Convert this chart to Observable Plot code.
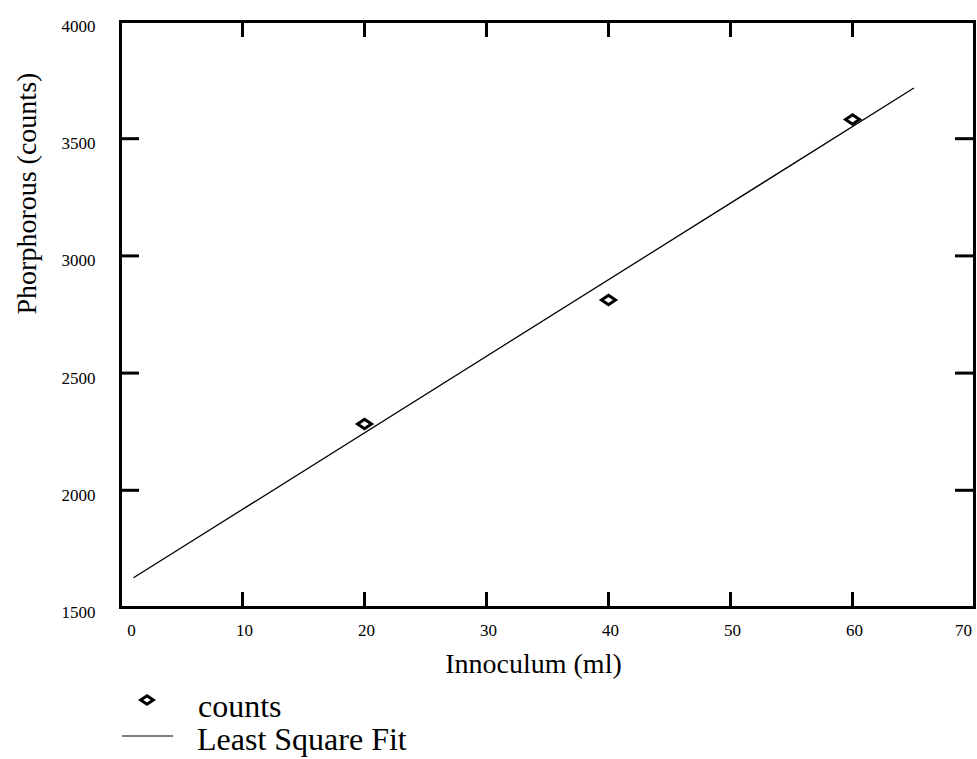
<!DOCTYPE html>
<html><head><meta charset="utf-8">
<script src="https://cdn.jsdelivr.net/npm/d3@7"></script>
<script src="https://cdn.jsdelivr.net/npm/@observablehq/plot@0.6"></script>
<style>
body{margin:0;background:#fff;font-family:"Liberation Serif","DejaVu Serif","Times New Roman",Times,serif;}
#wrap{position:relative;width:977px;height:759px;overflow:hidden;}
#chart svg, #chart svg text{font-family:"Liberation Serif","DejaVu Serif","Times New Roman",Times,serif !important;}
.lg{position:absolute;font-size:32px;line-height:32px;color:#000;white-space:nowrap;}
#lgsym{position:absolute;left:0;top:0;}
</style></head><body>
<div id="wrap"><div id="chart"></div>
<svg id="lgsym" width="977" height="759"></svg>
<div class="lg" id="lg1" style="left:198px;top:690px;">counts</div>
<div class="lg" id="lg2" style="left:197px;top:723px;">Least Square Fit</div>
</div>
<script>
// Data
const innoculum = [20, 40, 60];
const counts = [2283, 2812, 3582];
const fitX = [1.1, 65];
const fitY = [1628, 3715];
const xLabelTicks = [10, 20, 30, 40, 50, 60];
const xEdgeLeft = [0];
const xEdgeRight = [70];
const yLabelTicks = [1500, 2000, 2500, 3000, 3500, 4000];
const xInnerTicks = [10, 20, 30, 40, 50, 60];
const yInnerTicks = [2000, 2500, 3000, 3500];
const xTitle = "Innoculum (ml)";
const yTitle = "Phorphorous (counts)";
const legendLabels = ["counts", "Least Square Fit"];

const points = innoculum.map((x, i) => ({x, y: counts[i]}));
const fit = fitX.map((x, i) => ({x, y: fitY[i]}));

const flatDiamond = {
  draw(ctx, size) {
    const r = Math.sqrt(size / Math.PI);
    const w = r, h = r * 0.68;
    ctx.moveTo(0, -h); ctx.lineTo(w, 0); ctx.lineTo(0, h); ctx.lineTo(-w, 0); ctx.closePath();
  }
};

const W = 977, H = 690, mT = 21, mB = 83, mL = 120, mR = 3;
const fh = H - mT - mB, fw = W - mL - mR;
const font = "'Liberation Serif', 'DejaVu Serif', 'Times New Roman', serif";
const fmt = d => String(d);

const chart = Plot.plot({
  width: W, height: H,
  marginTop: mT, marginBottom: mB, marginLeft: mL, marginRight: mR,
  style: {fontFamily: font, background: "#fff", color: "#000"},
  x: {domain: [0, 70], axis: null},
  y: {domain: [1500, 4000], axis: null},
  marks: [
    Plot.frame({stroke: "#000", strokeWidth: 3}),
    Plot.tickX(xInnerTicks, {x: d => d, insetTop: fh - 15, stroke: "#000", strokeWidth: 3}),
    Plot.tickX(xInnerTicks, {x: d => d, insetBottom: fh - 16, stroke: "#000", strokeWidth: 3}),
    Plot.tickY(yInnerTicks, {y: d => d, insetRight: fw - 19, stroke: "#000", strokeWidth: 3}),
    Plot.tickY(yInnerTicks, {y: d => d, insetLeft: fw - 19, stroke: "#000", strokeWidth: 3}),
    Plot.axisX(xLabelTicks, {anchor: "bottom", tickSize: 0, tickPadding: 16, fontSize: 17, dx: 2, label: null, tickFormat: fmt, fill: "#000"}),
    Plot.axisX(xEdgeLeft, {anchor: "bottom", tickSize: 0, tickPadding: 16, fontSize: 17, dx: 11, label: null, tickFormat: fmt, fill: "#000"}),
    Plot.axisX(xEdgeRight, {anchor: "bottom", tickSize: 0, tickPadding: 16, fontSize: 17, dx: -11, label: null, tickFormat: fmt, fill: "#000"}),
    Plot.axisY(yLabelTicks, {anchor: "left", tickSize: 0, tickPadding: 25, fontSize: 17, dy: 5, label: null, tickFormat: fmt, fill: "#000"}),
    Plot.text([xTitle], {frameAnchor: "bottom", text: d => d, lineAnchor: "top", dy: 46, dx: -14, fontSize: 28, fill: "#000"}),
    Plot.text([yTitle], {frameAnchor: "left", text: d => d, rotate: -90, dx: -93, fontSize: 28, fill: "#000"}),
    Plot.line(fit, {x: "x", y: "y", stroke: "#000", strokeWidth: 1.3}),
    Plot.dot(points, {x: "x", y: "y", symbol: flatDiamond, r: 7, stroke: "#000", strokeWidth: 3, fill: "none"})
  ]
});
document.getElementById("chart").appendChild(chart);

// legend symbols
const sv = d3.select("#lgsym");
sv.append("path")
  .attr("d", d3.symbol().type(flatDiamond).size(Math.PI * 40)())
  .attr("transform", "translate(147,700)")
  .attr("fill", "none").attr("stroke", "#000").attr("stroke-width", 3);
sv.append("line").attr("x1", 122).attr("x2", 173).attr("y1", 736).attr("y2", 736)
  .attr("stroke", "#000").attr("stroke-width", 1.2);
document.getElementById("lg1").textContent = legendLabels[0];
document.getElementById("lg2").textContent = legendLabels[1];
</script>
</body></html>
